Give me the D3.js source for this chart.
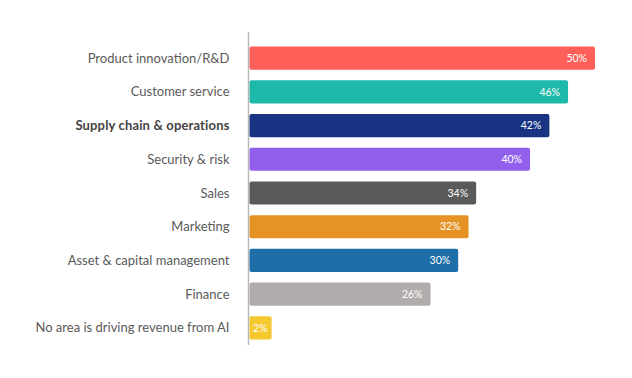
<!DOCTYPE html>
<html>
<head>
<meta charset="utf-8">
<script src="https://cdn.jsdelivr.net/npm/d3@7"></script>
<style>
  html, body { margin: 0; padding: 0; background: #fff; }
  svg { display: block; }
</style>
</head>
<body>
<svg id="chart" width="632" height="378"></svg>
<script>
const categories = [
  "Product innovation/R&D",
  "Customer service",
  "Supply chain & operations",
  "Security & risk",
  "Sales",
  "Marketing",
  "Asset & capital management",
  "Finance",
  "No area is driving revenue from AI"
];
// bar lengths (percent)
const values = [50, 46.1, 43.4, 40.6, 32.8, 31.7, 30.2, 26.2, 3.2];
// value labels as printed on the bars
const valueLabels = ["50%", "46%", "42%", "40%", "34%", "32%", "30%", "26%", "2%"];
const colors = ["#fe5f58", "#1eb9aa", "#183381", "#925fec", "#5a5a5a", "#e69326", "#1d6ea9", "#b1acab", "#f5c830"];
const highlighted = ["Supply chain & operations"];

const svg = d3.select("#chart");
const x0 = 249.5;

const x = d3.scaleLinear().domain([0, 50]).range([x0, 595]);
const y = d3.scaleBand().domain(categories).range([36, 350]).paddingInner(0.315).paddingOuter(0.315);

// axis line
svg.append("line")
  .attr("x1", x0 - 1).attr("x2", x0 - 1)
  .attr("y1", 32).attr("y2", 345)
  .attr("stroke", "#b8b8b8").attr("stroke-width", 1.5);

const rows = categories.map((c, i) => ({ c, v: values[i], lbl: valueLabels[i], col: colors[i] }));

svg.selectAll("rect.bar").data(rows).join("rect")
  .attr("class", "bar")
  .attr("x", x(0))
  .attr("y", d => y(d.c))
  .attr("width", d => x(d.v) - x(0))
  .attr("height", y.bandwidth())
  .attr("rx", 2).attr("ry", 2)
  .attr("fill", d => d.col);

svg.selectAll("text.cat").data(rows).join("text")
  .attr("class", "cat")
  .attr("x", x0 - 20)
  .attr("y", d => y(d.c) + y.bandwidth() / 2)
  .attr("dy", "0.35em")
  .attr("text-anchor", "end")
  .attr("font-family", "Lato, 'Open Sans', sans-serif")
  .attr("font-size", 13)
  .attr("letter-spacing", d => highlighted.includes(d.c) ? "0.15px" : "0px")
  .attr("font-weight", d => highlighted.includes(d.c) ? "bold" : "normal")
  .attr("fill", d => highlighted.includes(d.c) ? "#444" : "#5a5a5a")
  .text(d => d.c);

const vals = svg.selectAll("text.val").data(rows).join("text")
  .attr("class", "val")
  .attr("y", d => y(d.c) + y.bandwidth() / 2)
  .attr("dy", "0.35em")
  .attr("text-anchor", "end")
  .attr("font-family", "Lato, 'Open Sans', sans-serif")
  .attr("font-size", 10.5)
  .attr("fill", "#fff")
  .text(d => d.lbl);

vals.each(function(d) {
  const w = this.getComputedTextLength();
  let xr = x(d.v) - 8;
  if (xr - w < x(0) + 5) xr = x(d.v) - 4;
  d3.select(this).attr("x", xr);
});
</script>
</body>
</html>
